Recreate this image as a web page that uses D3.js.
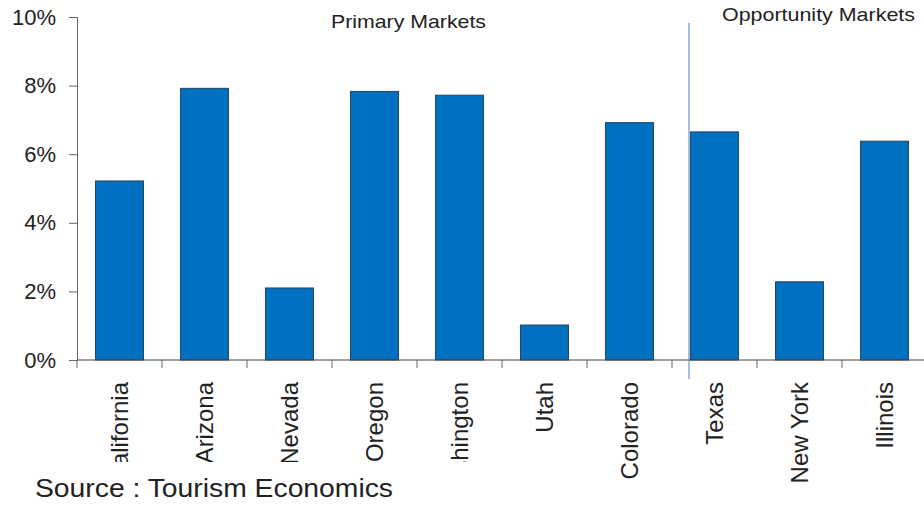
<!DOCTYPE html>
<html>
<head>
<meta charset="utf-8">
<script src="https://cdn.jsdelivr.net/npm/d3@7"></script>
<style>
  body { margin: 0; background: #fff; }
  text { font-family: "Liberation Sans", Arial, sans-serif; fill: #222; }
</style>
</head>
<body>
<script>
// chart size
const width = 924;
const height = 512;

// data
const states = ["California", "Arizona", "Nevada", "Oregon", "Washington",
    "Utah", "Colorado", "Texas", "New York", "Illinois"];
const growth = [5.22, 7.92, 2.1, 7.83, 7.72, 1.02, 6.92, 6.65, 2.28, 6.38];
const yTicks = [0, 2, 4, 6, 8, 10];

const svg = d3.select("body").append("svg")
    .attr("width", width)
    .attr("height", height);

// scales
const x = d3.scaleBand()
    .domain(states)
    .range([77, 927])
    .paddingInner(0.435)
    .paddingOuter(0.2175);

const y = d3.scaleLinear()
    .domain([0, 10])
    .range([360, 17]);

// bars
svg.append("g")
    .selectAll("rect")
    .data(states)
    .join("rect")
    .attr("x", d => x(d))
    .attr("y", (d, i) => y(growth[i]))
    .attr("width", x.bandwidth())
    .attr("height", (d, i) => y(0) - y(growth[i]))
    .attr("fill", "#0070c0")
    .attr("stroke", "#27435f")
    .attr("stroke-width", 1);

// y axis
const yAxis = svg.append("g")
    .attr("transform", "translate(77,0)")
    .call(d3.axisLeft(y).tickValues(yTicks).tickFormat(d => d + "%").tickSize(8).tickPadding(13));
yAxis.select(".domain").attr("stroke", "#666");
yAxis.selectAll(".tick line").attr("stroke", "#666");
yAxis.selectAll(".tick text")
    .style("font-size", "22px")
    .style("font-family", "Liberation Sans, Arial, sans-serif")
    .attr("fill", "#222");

// x axis line and ticks at band edges
const gap = (x.step() - x.bandwidth()) / 2;
svg.append("line")
    .attr("x1", 77).attr("x2", width)
    .attr("y1", y(0)).attr("y2", y(0))
    .attr("stroke", "#444");

svg.append("g")
    .selectAll("line")
    .data(states)
    .join("line")
    .attr("x1", d => x(d) - gap)
    .attr("x2", d => x(d) - gap)
    .attr("y1", y(0))
    .attr("y2", y(0) + 8)
    .attr("stroke", "#666");

// category labels
svg.append("g")
    .selectAll("text")
    .data(states)
    .join("text")
    .attr("transform", d => "translate(" + (x(d) + x.bandwidth() / 2) + ",382) rotate(-90)")
    .attr("text-anchor", "end")
    .attr("dy", "0.35em")
    .style("font-size", "24px")
    .text(d => d);

// divider between primary and opportunity markets
svg.append("line")
    .attr("x1", x("Texas") - 1.5)
    .attr("x2", x("Texas") - 1.5)
    .attr("y1", 23)
    .attr("y2", 379)
    .attr("stroke", "#4f7fbf")
    .attr("stroke-width", 1);

svg.append("text")
    .attr("x", 331)
    .attr("y", 28)
    .attr("textLength", 155)
    .attr("lengthAdjust", "spacingAndGlyphs")
    .style("font-size", "19px")
    .text("Primary Markets");

svg.append("text")
    .attr("x", 722)
    .attr("y", 21)
    .attr("textLength", 193)
    .attr("lengthAdjust", "spacingAndGlyphs")
    .style("font-size", "19px")
    .text("Opportunity Markets");

// source box covers the bottom of labels
svg.append("rect")
    .attr("x", 0)
    .attr("y", 462)
    .attr("width", 473)
    .attr("height", 50)
    .attr("fill", "#fff");

svg.append("text")
    .attr("x", 35)
    .attr("y", 497)
    .attr("textLength", 358)
    .attr("lengthAdjust", "spacingAndGlyphs")
    .style("font-size", "25px")
    .attr("fill", "#333")
    .text("Source : Tourism Economics");
</script>
</body>
</html>
